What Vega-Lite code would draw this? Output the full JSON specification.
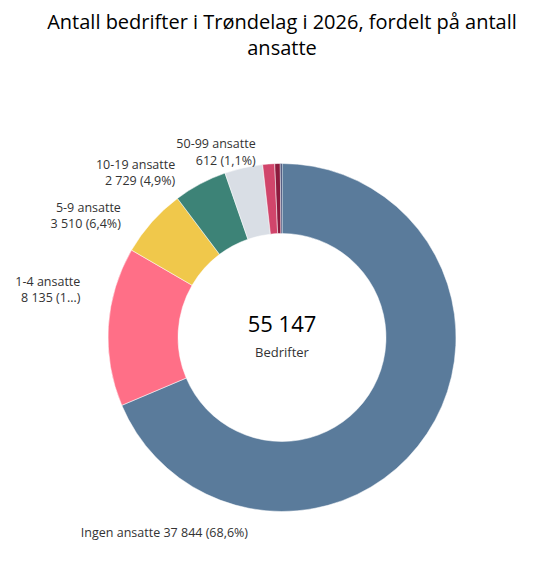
{
  "$schema": "https://vega.github.io/schema/vega-lite/v6.json",
  "width": 554,
  "height": 449,
  "autosize": "none",
  "padding": {"left": 5, "right": 0, "top": 113, "bottom": 0},
  "background": "white",
  "title": {
    "text": ["Antall bedrifter i Trøndelag i 2026, fordelt på antall", "ansatte"],
    "font": "Open Sans",
    "fontSize": 20,
    "fontWeight": "normal",
    "color": "#000000",
    "lineHeight": 26,
    "anchor": "middle",
    "baseline": "bottom",
    "offset": 34
  },
  "datasets": {
    "firms": [
      {"category": "Ingen ansatte", "count": 37844, "order": 1, "label": "Ingen ansatte 37 844 (68,6%)"},
      {"category": "1-4 ansatte", "count": 8135, "order": 2, "label": "1-4 ansatte\n8 135 (1…)"},
      {"category": "5-9 ansatte", "count": 3510, "order": 3, "label": "5-9 ansatte\n3 510 (6,4%)"},
      {"category": "10-19 ansatte", "count": 2729, "order": 4, "label": "10-19 ansatte\n2 729 (4,9%)"},
      {"category": "20-49 ansatte", "count": 1950, "order": 5, "label": "20-49 ansatte\n1 950 (3,5%)"},
      {"category": "50-99 ansatte", "count": 612, "order": 6, "label": "50-99 ansatte\n612 (1,1%)"},
      {"category": "100-249 ansatte", "count": 280, "order": 7, "label": "100-249 ansatte\n280 (0,5%)"},
      {"category": "250+ ansatte", "count": 87, "order": 8, "label": "250+ ansatte\n87 (0,2%)"}
    ]
  },
  "data": {"name": "firms"},
  "layer": [
    {
      "mark": {"type": "arc", "outerRadius": 174, "innerRadius": 104, "stroke": "#ffffff", "strokeWidth": 0.5},
      "encoding": {
        "theta": {"field": "count", "type": "quantitative", "stack": true},
        "order": {"field": "order", "type": "quantitative"},
        "color": {
          "field": "category",
          "type": "nominal",
          "legend": null,
          "scale": {
            "domain": ["Ingen ansatte", "1-4 ansatte", "5-9 ansatte", "10-19 ansatte", "20-49 ansatte", "50-99 ansatte", "100-249 ansatte", "250+ ansatte"],
            "range": ["#5a7b9b", "#ff6f87", "#f0c84b", "#3d8377", "#d9dee5", "#d1456b", "#8c1a3d", "#1f2b5c"]
          }
        },
        "tooltip": [
          {"field": "category", "type": "nominal", "title": "Antall ansatte"},
          {"field": "count", "type": "quantitative", "title": "Bedrifter"}
        ]
      }
    },
    {
      "mark": {"type": "text", "radius": 174, "align": "right", "baseline": "middle", "dx": -179, "dy": 99, "fontSize": 12.5, "color": "#333333", "lineBreak": "\n", "lineHeight": 16.5},
      "encoding": {
        "theta": {"field": "count", "type": "quantitative", "stack": true},
        "order": {"field": "order", "type": "quantitative"},
        "text": {"condition": {"test": "datum.category == 'Ingen ansatte'", "field": "label"}, "value": ""}
      }
    },
    {
      "mark": {"type": "text", "radius": 174, "align": "right", "baseline": "middle", "dx": -28, "dy": -45, "fontSize": 12.5, "color": "#333333", "lineBreak": "\n", "lineHeight": 16.5},
      "encoding": {
        "theta": {"field": "count", "type": "quantitative", "stack": true},
        "order": {"field": "order", "type": "quantitative"},
        "text": {"condition": {"test": "datum.category == '1-4 ansatte'", "field": "label"}, "value": ""}
      }
    },
    {
      "mark": {"type": "text", "radius": 174, "align": "right", "baseline": "middle", "dx": -31, "dy": -14, "fontSize": 12.5, "color": "#333333", "lineBreak": "\n", "lineHeight": 16.5},
      "encoding": {
        "theta": {"field": "count", "type": "quantitative", "stack": true},
        "order": {"field": "order", "type": "quantitative"},
        "text": {"condition": {"test": "datum.category == '5-9 ansatte'", "field": "label"}, "value": ""}
      }
    },
    {
      "mark": {"type": "text", "radius": 174, "align": "right", "baseline": "middle", "dx": -25, "dy": -19, "fontSize": 12.5, "color": "#333333", "lineBreak": "\n", "lineHeight": 16.5},
      "encoding": {
        "theta": {"field": "count", "type": "quantitative", "stack": true},
        "order": {"field": "order", "type": "quantitative"},
        "text": {"condition": {"test": "datum.category == '10-19 ansatte'", "field": "label"}, "value": ""}
      }
    },
    {
      "mark": {"type": "text", "radius": 174, "align": "right", "baseline": "middle", "dx": -13, "dy": -20, "fontSize": 12.5, "color": "#333333", "lineBreak": "\n", "lineHeight": 16.5},
      "encoding": {
        "theta": {"field": "count", "type": "quantitative", "stack": true},
        "order": {"field": "order", "type": "quantitative"},
        "text": {"condition": {"test": "datum.category == '50-99 ansatte'", "field": "label"}, "value": ""}
      }
    },
    {
      "transform": [
        {"aggregate": [{"op": "sum", "field": "count", "as": "total"}]},
        {"calculate": "replace(format(datum.total, ','), ',', ' ')", "as": "total_label"}
      ],
      "mark": {"type": "text", "align": "center", "baseline": "middle", "dy": -12.5, "fontSize": 22, "color": "#000000"},
      "encoding": {"text": {"field": "total_label"}}
    },
    {
      "transform": [{"aggregate": [{"op": "count", "as": "n"}]}],
      "mark": {"type": "text", "align": "center", "baseline": "middle", "dy": 15, "fontSize": 13, "color": "#333333", "text": "Bedrifter"},
      "encoding": {}
    }
  ],
  "config": {
    "view": {"stroke": null},
    "text": {"font": "Open Sans"}
  }
}
